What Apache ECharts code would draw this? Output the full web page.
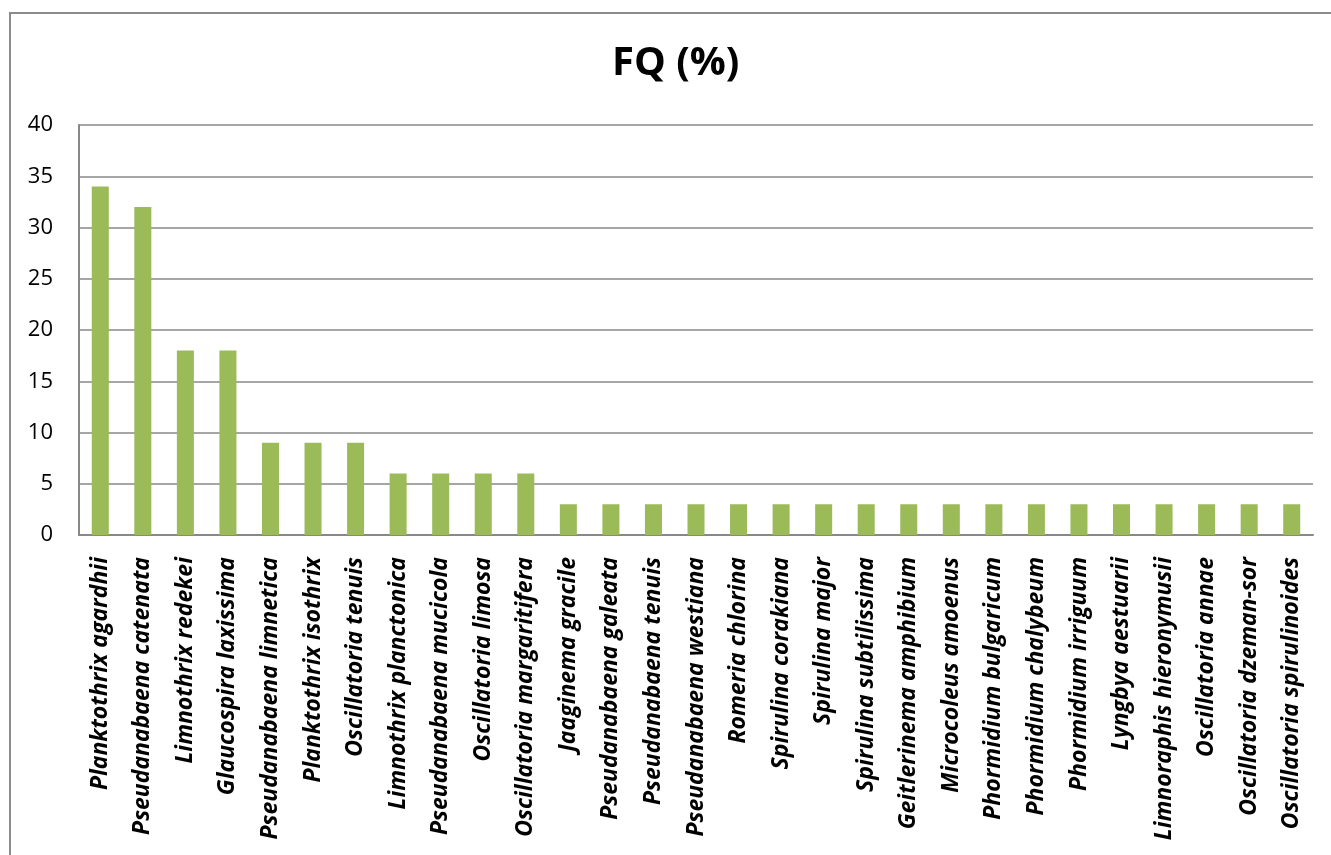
<!DOCTYPE html>
<html><head><meta charset="utf-8">
<script src="https://cdn.jsdelivr.net/npm/echarts@6/dist/echarts.min.js"></script>
<style>
html,body{margin:0;padding:0;background:#fff;}
#frame{position:absolute;left:9px;top:12px;width:1340px;height:900px;border:2px solid #8c8c8c;box-sizing:border-box;}
#c{position:absolute;left:0;top:0;width:1331px;height:855px;}
</style></head><body>
<div id="frame"></div>
<div id="c"></div>
<script>
var categories = ["Planktothrix agardhii","Pseudanabaena catenata","Limnothrix redekei","Glaucospira laxissima","Pseudanabaena limnetica","Planktothrix isothrix","Oscillatoria tenuis","Limnothrix planctonica","Pseudanabaena mucicola","Oscillatoria limosa","Oscillatoria margaritifera","Jaaginema gracile","Pseudanabaena galeata","Pseudanabaena tenuis","Pseudanabaena westiana","Romeria chlorina","Spirulina corakiana","Spirulina major","Spirulina subtilissima","Geitlerinema amphibium","Microcoleus amoenus","Phormidium bulgaricum","Phormidium chalybeum","Phormidium irriguum","Lyngbya aestuarii","Limnoraphis hieronymusii","Oscillatoria annae","Oscillatoria dzeman-sor","Oscillatoria spirulinoides"];
var values = [34,32,18,18,9,9,9,6,6,6,6,3,3,3,3,3,3,3,3,3,3,3,3,3,3,3,3,3,3];
var titleText = "FQ (%)";
var chart = echarts.init(document.getElementById('c'));
chart.setOption({
  animation:false,
  title:{text:titleText,left:612,top:44,padding:0,textStyle:{fontFamily:'Open Sans',fontWeight:'bold',fontSize:40,color:'#000'}},
  grid:{left:79,top:125,right:18,bottom:320,containLabel:false},
  xAxis:{type:'category',data:categories,
    axisLine:{lineStyle:{color:'#888',width:2}},axisTick:{show:false},
    axisLabel:{rotate:90,interval:0,margin:22,fontFamily:'Open Sans',fontWeight:'bold',fontStyle:'italic',fontSize:23,color:'#000'}},
  yAxis:{type:'value',min:0,max:40,interval:5,
    axisLine:{show:true,lineStyle:{color:'#888',width:2}},axisTick:{show:false},
    splitLine:{lineStyle:{color:'#888',width:1.5}},
    axisLabel:{margin:26,fontFamily:'Open Sans',fontSize:22,color:'#000'}},
  series:[{type:'bar',data:values,barWidth:'40%',itemStyle:{color:'#9BBB59'}}]
});
</script></body></html>
